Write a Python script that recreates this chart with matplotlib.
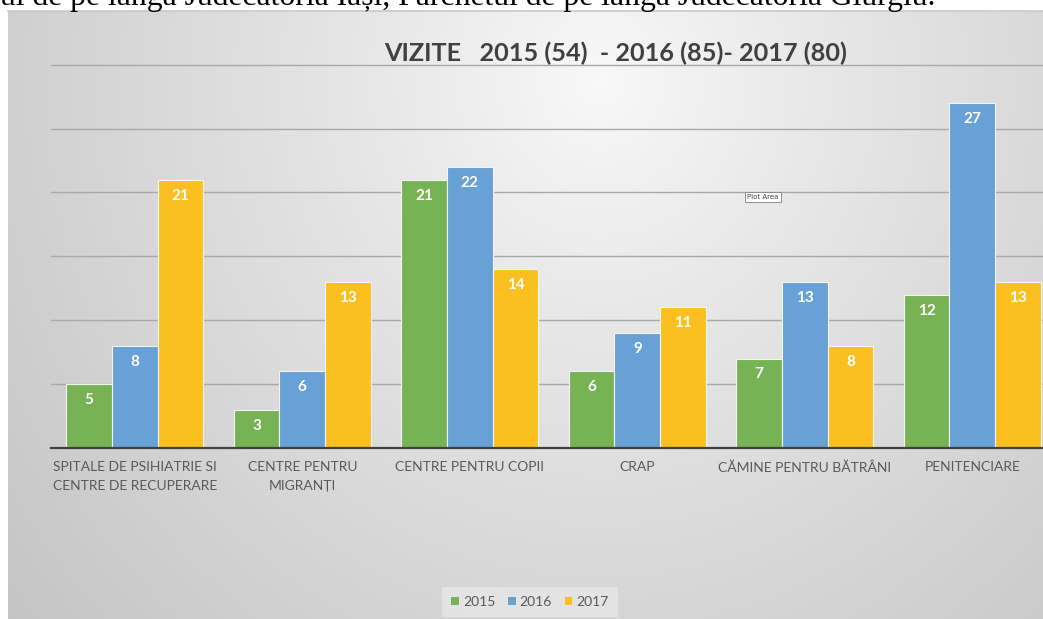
import numpy as np
import matplotlib
matplotlib.use("Agg")
import matplotlib.pyplot as plt
from matplotlib.patches import Patch

categories = ["SPITALE DE PSIHIATRIE SI\nCENTRE DE RECUPERARE", "CENTRE PENTRU\nMIGRANȚI",
              "CENTRE PENTRU COPII", "CRAP", "CĂMINE PENTRU BĂTRÂNI", "PENITENCIARE"]
years = ["2015", "2016", "2017"]
v2015 = [5, 3, 21, 6, 7, 12]
v2016 = [8, 6, 22, 9, 13, 27]
v2017 = [21, 13, 14, 11, 8, 13]
series = [v2015, v2016, v2017]
colors = ["#77b255", "#67a1d6", "#fbc020"]
title = "VIZITE   2015 (54)  - 2016 (85)- 2017 (80)"
top_text = "ul de pe lângă Judecătoria Iași, Parchetul de pe lângă Judecătoria Giurgiu."

W, H = 1043, 619
fig = plt.figure(figsize=(W / 100, H / 100), dpi=100)
fig.patch.set_facecolor("white")

# background gradient panel
x0, ytop = 8, 11
bg = fig.add_axes([x0 / W, 0, 1 - x0 / W, (H - ytop) / H])
bg.set_zorder(-10)
xs = np.arange(x0, W)
ys = np.arange(ytop, H)
X, Y = np.meshgrid(xs, ys)
d = np.sqrt(((X - 600) / 592.0) ** 2 + ((Y - 80) / 640.0) ** 2)
val = np.clip(0.975 - 0.16 * d ** 0.9, 0, 1)
bg.imshow(np.dstack([val, val, val]), aspect="auto", extent=(0, 1, 0, 1), interpolation="bilinear")
bg.axis("off")
fig.add_artist(plt.Line2D([x0 / W, 1], [1 - ytop / H, 1 - ytop / H], color="#c8c8c8", lw=1.2))

# top document text, clipped by the page edge as in the source screenshot
fig.text(0.0, 1 - 5 / H, top_text, fontfamily="Liberation Serif", fontsize=22.8,
         va="baseline", ha="left", color="black")

# main axes
left_px, right_px = 51, 1056
base_px, top_px = 448, 64
ax = fig.add_axes([left_px / W, 1 - base_px / H, (right_px - left_px) / W, (base_px - top_px) / H])
ax.patch.set_alpha(0)
n = len(categories)
x = np.arange(n)
bw = 0.273
for i, (vals, c, yr) in enumerate(zip(series, colors, years)):
    bars = ax.bar(x + (i - 1) * bw, vals, width=bw, color=c, edgecolor="#f4f4f4",
                  linewidth=0.8, zorder=3, label=yr)
    ax.bar_label(bars, padding=-16.5, color="white", fontsize=11, fontweight="bold",
                 fontfamily="Lato", zorder=4)

ax.set_xlim(-0.5, n - 0.5)
ax.set_ylim(0, 30.05)
ax.set_yticks([5, 10, 15, 20, 25, 30])
ax.yaxis.grid(True, color="#a8a8a8", lw=1.0, zorder=0)
ax.tick_params(axis="y", left=False, labelleft=False)
for s in ["top", "right", "left"]:
    ax.spines[s].set_visible(False)
ax.spines["bottom"].set_color("#404040")
ax.spines["bottom"].set_linewidth(1.6)
ax.spines["bottom"].set_zorder(5)
ax.set_xticks(x)
ax.set_xticklabels(categories, fontfamily="Lato", fontsize=10, color="#595959", linespacing=1.7)
ax.tick_params(axis="x", length=0, pad=9.5)

fig.text(616 / W, 1 - 53 / H, title, fontfamily="Lato", fontweight="bold", fontsize=18.2,
         color="#404040", ha="center", va="center")

fig.text(763 / W, 1 - 197 / H, "Plot Area", fontsize=5, color="#404040", ha="center", va="center",
         fontfamily="DejaVu Sans",
         bbox=dict(boxstyle="square,pad=0.35", facecolor="white", edgecolor="#808080", lw=0.6))

handles = [Patch(facecolor=c, edgecolor="none", label=y) for c, y in zip(colors, years)]
leg = fig.legend(handles=handles, loc="center", bbox_to_anchor=(530 / W, 1 - 602 / H), ncol=3,
                 frameon=True, handlelength=0.55, handleheight=0.55,
                 handletextpad=0.3, columnspacing=0.9, borderpad=0.35,
                 prop={"family": "Lato", "size": 10})
leg.get_frame().set_facecolor("#e9e9e9")
leg.get_frame().set_edgecolor("none")
leg.get_frame().set_alpha(0.7)
leg.get_frame().set_boxstyle("square")
for t in leg.get_texts():
    t.set_color("#595959")

fig.savefig("out.png", dpi=100)
